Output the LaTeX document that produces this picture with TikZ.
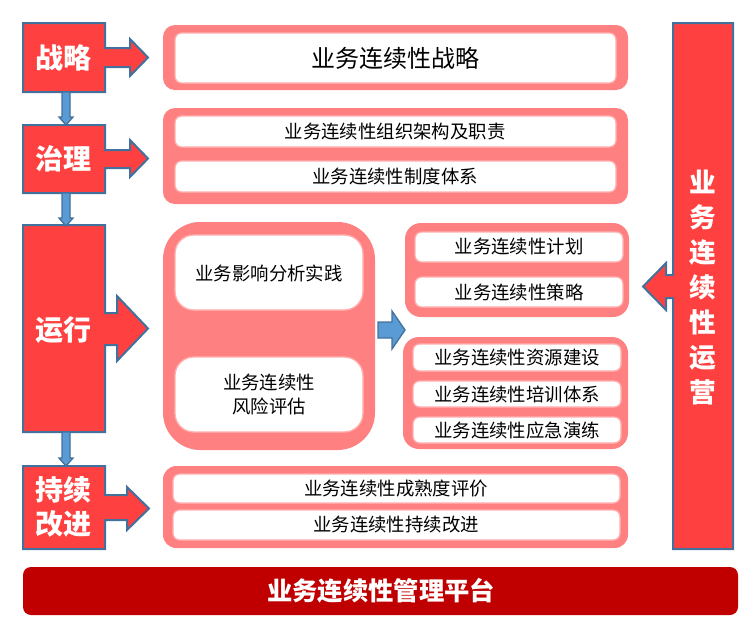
\documentclass[tikz,border=0pt]{standalone}
\usepackage{fontspec}
\setmainfont{Noto Sans CJK SC}
\definecolor{pinkc}{RGB}{255,128,128}
\definecolor{redc}{RGB}{255,64,64}
\definecolor{edgeblue}{RGB}{65,113,156}
\definecolor{arrowblue}{RGB}{91,155,213}
\definecolor{darkredc}{RGB}{192,0,0}
\definecolor{glow}{RGB}{255,175,175}
\tikzset{
  redshape/.style={fill=redc, draw=edgeblue, line width=1.5pt, line join=miter},
  downarrow/.style={fill=arrowblue, draw=edgeblue, line width=1pt},
  container/.style={fill=pinkc, rounded corners=9pt},
  whitebox/.style={fill=white, draw=glow, line width=1pt, rounded corners=5pt},
  lbl/.style={font=\fontsize{21pt}{24pt}\selectfont\bfseries, text=white, align=center},
  itm/.style={font=\fontsize{13.8pt}{17pt}\selectfont, text=black, align=center},
}
\newcommand{\redbox}[9]{% x1 y1 y2 shafttop shaftbot headtop headbot headx tipx
  \draw[redshape] (#1,#2) -- (105,#2) -- (105,#4) -- (#8,#4) -- (#8,#6) -- (#9,{(#6+#7)/2}) -- (#8,#7) -- (#8,#5) -- (105,#5) -- (105,#3) -- (#1,#3) -- cycle;}
\newcommand{\downarr}[2]{%
  \draw[downarrow] (62,#1) -- (70,#1) -- (70,{#2-8}) -- (73,{#2-8}) -- (66,#2) -- (59,{#2-8}) -- (62,{#2-8}) -- cycle;}
\begin{document}
\begin{tikzpicture}[x=0.75pt,y=-0.75pt]
\useasboundingbox (0,0) rectangle (754,633);

% left red boxes with arrows
\redbox{23}{23}{92}{48}{67}{39}{76}{130}{148}
\redbox{23}{125}{193}{150}{168}{140}{177}{130}{148}
\redbox{23}{225}{432}{313}{345}{296}{361}{117}{148}
\redbox{23}{466}{549}{495}{520}{487}{530}{127}{149}

\node[lbl] (zl) at (64,58) {战略};
\node[lbl] (zli) at (64,159) {治理};
\node[lbl] (yx) at (64,330) {运行};
\node[lbl, font=\fontsize{21pt}{25.5pt}\selectfont\bfseries] (cxgj) at (64,507) {持续\\改进};

% down arrows
\downarr{92}{125}
\downarr{193}{226}
\downarr{432}{466}

% right vertical box
\draw[redshape] (673,23) -- (733,23) -- (733,549) -- (673,549) -- (673,298) -- (666,298) -- (666,310) -- (643,286.5) -- (666,263) -- (666,275) -- (673,275) -- cycle;
\node[lbl, font=\fontsize{20pt}{26.25pt}\selectfont\bfseries] (yy) at (703,288) {业\\务\\连\\续\\性\\运\\营};

% container 1
\fill[container] (163,25) rectangle (628,90);
\draw[whitebox] (175,33) rectangle (616,83);
\node[itm, font=\fontsize{18pt}{20pt}\selectfont] (s1) at (395,58) {业务连续性战略};

% container 2
\fill[container] (163,108) rectangle (628,204);
\draw[whitebox] (175,116) rectangle (616,147);
\draw[whitebox] (175,161) rectangle (616,192);
\node[itm] (g1) at (395,131.5) {业务连续性组织架构及职责};
\node[itm] (g2) at (395,176.5) {业务连续性制度体系};

% container 3
\fill[container, rounded corners=28pt] (163,222) rectangle (375,450);
\draw[whitebox, rounded corners=14pt] (175,235) rectangle (363,310);
\draw[whitebox, rounded corners=14pt] (175,357) rectangle (363,432);
\node[itm] (b1) at (269,273) {业务影响分析实践};
\node[itm, font=\fontsize{13.8pt}{18pt}\selectfont] (b2) at (269,394) {业务连续性\\风险评估};

% blue arrow
\draw[downarrow] (378,322) -- (392,322) -- (392,311) -- (405,330) -- (392,349) -- (392,338) -- (378,338) -- cycle;

% container 4
\fill[container, rounded corners=12pt] (405,223) rectangle (629,317);
\draw[whitebox] (415,232) rectangle (623,262);
\draw[whitebox] (415,277) rectangle (623,307);
\node[itm] (p1) at (519,247) {业务连续性计划};
\node[itm] (p2) at (519,292) {业务连续性策略};

% container 5
\fill[container, rounded corners=12pt] (403,337) rectangle (628,449);
\draw[whitebox] (413,344) rectangle (621,371);
\draw[whitebox] (413,381) rectangle (621,407);
\draw[whitebox] (413,417) rectangle (621,443);
\node[itm] (r1) at (517,357.5) {业务连续性资源建设};
\node[itm] (r2) at (517,394) {业务连续性培训体系};
\node[itm] (r3) at (517,430) {业务连续性应急演练};

% container 6
\fill[container, rounded corners=10pt] (163,466) rectangle (628,548);
\draw[whitebox] (173,474) rectangle (620,503);
\draw[whitebox] (173,510) rectangle (620,540);
\node[itm] (c1) at (396,489) {业务连续性成熟度评价};
\node[itm] (c2) at (396,525) {业务连续性持续改进};

% bottom bar
\fill[darkredc, rounded corners=6pt] (23,567) rectangle (738,615);
\node[lbl, font=\fontsize{19pt}{22pt}\selectfont\bfseries] (plat) at (381,591) {业务连续性管理平台};
\end{tikzpicture}
\end{document}
